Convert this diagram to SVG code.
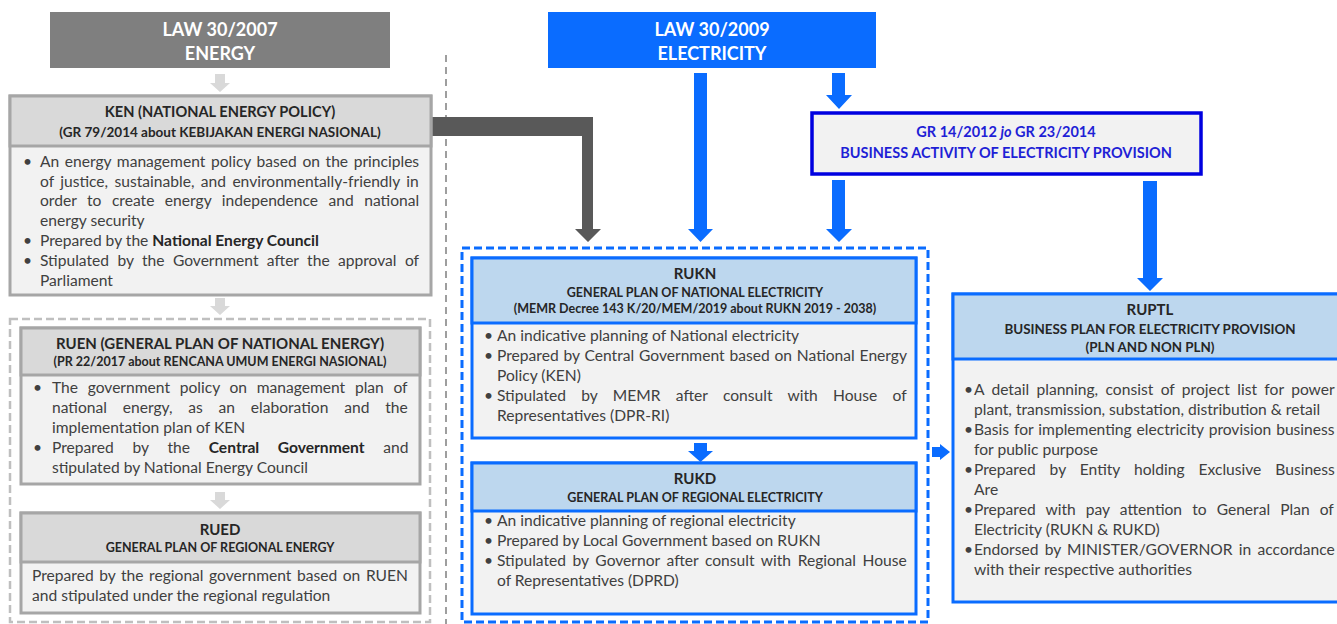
<svg xmlns="http://www.w3.org/2000/svg" width="1337" height="624" viewBox="0 0 1337 624">
<style>
text{font-family:Lato,"Open Sans","Liberation Sans",sans-serif;fill:#404040}
.b{font-size:15.6px}
.h1{font-size:15px;font-weight:bold;text-anchor:middle;fill:#262626}
.h2{font-size:12.5px;font-weight:bold;text-anchor:middle;fill:#262626}
.law{font-size:18px;font-weight:bold;text-anchor:middle;fill:#fff}
.gr{font-size:14.5px;font-weight:bold;text-anchor:middle;fill:#1f1fd6}
.gbox{fill:#f2f2f2;stroke:#a6a6a6;stroke-width:3}
.ghead{fill:#d9d9d9;stroke:#a6a6a6;stroke-width:3}
.bbox{fill:#f2f2f2;stroke:#0a6cff;stroke-width:3}
.bhead{fill:#bdd7ee;stroke:#0a6cff;stroke-width:3}
.blue{fill:#0a6cff}
.lg{fill:#d9d9d9}
.bold{font-weight:bold;fill:#262626}
</style>

<g id="connectors">
  <line x1="446" y1="55" x2="446" y2="624" stroke="#7f7f7f" stroke-width="1.5" stroke-dasharray="7 5"/>
  <path class="lg" d="M215,74 H225 V83 H230 L220,92 L210,83 H215 Z"/>
  <path class="lg" d="M215,298 H225 V306 H230 L220,315 L210,306 H215 Z"/>
  <path class="lg" d="M215,492 H225 V500 H230 L220,509 L210,500 H215 Z"/>
  <path fill="#595959" d="M431,117 H593 V229 H601 L588,242 L575,229 H582 V136 H431 Z"/>
  <path class="blue" d="M694,73 H707 V229 H713 L700.5,242 L688,229 H694 Z"/>
  <path class="blue" d="M832,73 H845 V95 H852 L839,109 L826,95 H832 Z"/>
  <path class="blue" d="M832,180 H845 V229 H852 L839,242 L826,229 H832 Z"/>
  <path class="blue" d="M1143,181 H1157 V278 H1163 L1150,291 L1137,278 H1143 Z"/>
  <path class="blue" d="M694,443 H707 V451 H713 L700.5,462 L688,451 H694 Z"/>
  <path class="blue" d="M932,447 H940 V444 L950,452 L940,460 V457 H932 Z"/>
</g>

<g id="law2007">
  <rect x="50" y="12" width="340" height="56" fill="#7f7f7f"/>
  <text class="law" x="220" y="36">LAW 30/2007</text>
  <text class="law" x="220" y="60">ENERGY</text>
</g>

<g id="ken">
  <rect class="gbox" x="10" y="96" width="421" height="199"/>
  <rect class="ghead" x="10" y="96" width="421" height="50"/>
  <text class="h1" x="220" y="117" style="font-size:14.6px">KEN (NATIONAL ENERGY POLICY)</text>
  <text class="h2" x="220" y="137" style="font-size:13.5px">(GR 79/2014 about KEBIJAKAN ENERGI NASIONAL)</text>
  <g class="b">
    <text x="23" y="167">•</text>
    <text x="40" y="167" word-spacing="1.6">An energy management policy based on the principles</text>
    <text x="40" y="187" word-spacing="2.4">of justice, sustainable, and environmentally-friendly in</text>
    <text x="40" y="206" word-spacing="6.5">order to create energy independence and national</text>
    <text x="40" y="226">energy security</text>
    <text x="23" y="246">•</text>
    <text x="40" y="246">Prepared by the <tspan class="bold">National Energy Council</tspan></text>
    <text x="23" y="266">•</text>
    <text x="40" y="266" word-spacing="4.4">Stipulated by the Government after the approval of</text>
    <text x="40" y="286">Parliament</text>
  </g>
</g>

<rect id="energy-plan-group" x="10" y="319" width="420" height="303" fill="none" stroke="#bfbfbf" stroke-width="2.5" stroke-dasharray="8 4"/>

<g id="ruen">
  <rect class="gbox" x="21" y="328" width="399" height="156"/>
  <rect class="ghead" x="21" y="328" width="399" height="47"/>
  <text class="h1" x="220" y="349">RUEN (GENERAL PLAN OF NATIONAL ENERGY)</text>
  <text class="h2" x="220" y="366">(PR 22/2017 about RENCANA UMUM ENERGI NASIONAL)</text>
  <g class="b">
    <text x="33" y="393">•</text>
    <text x="52" y="393" word-spacing="5.7">The government policy on management plan of</text>
    <text x="52" y="413" word-spacing="11.8">national energy, as an elaboration and the</text>
    <text x="52" y="433">implementation plan of KEN</text>
    <text x="33" y="453">•</text>
    <text x="52" y="453" word-spacing="14.8">Prepared by the <tspan class="bold">Central Government</tspan> and</text>
    <text x="52" y="473">stipulated by National Energy Council</text>
  </g>
</g>

<g id="rued">
  <rect class="gbox" x="21" y="513" width="399" height="100"/>
  <rect class="ghead" x="21" y="513" width="399" height="49"/>
  <text class="h1" x="220" y="535">RUED</text>
  <text class="h2" x="220" y="552">GENERAL PLAN OF REGIONAL ENERGY</text>
  <g class="b">
    <text x="32" y="581" word-spacing="1.6">Prepared by the regional government based on RUEN</text>
    <text x="32" y="601">and stipulated under the regional regulation</text>
  </g>
</g>

<g id="law2009">
  <rect x="548" y="12" width="328" height="56" fill="#0a6cff"/>
  <text class="law" x="712" y="36">LAW 30/2009</text>
  <text class="law" x="712" y="60">ELECTRICITY</text>
</g>

<g id="gr">
  <rect x="812" y="113" width="389" height="61" fill="#f2f2f2" stroke="#0000e0" stroke-width="3.5"/>
  <text class="gr" x="1006" y="137">GR 14/2012 <tspan font-style="italic">jo</tspan> GR 23/2014</text>
  <text class="gr" x="1006" y="158">BUSINESS ACTIVITY OF ELECTRICITY PROVISION</text>
</g>

<rect id="electricity-plan-group" x="462" y="248" width="466" height="374" fill="none" stroke="#0a6cff" stroke-width="3" stroke-dasharray="8 4"/>

<g id="rukn">
  <rect class="bbox" x="472" y="258" width="444" height="180"/>
  <rect class="bhead" x="472" y="258" width="444" height="65"/>
  <text class="h1" x="695" y="279">RUKN</text>
  <text class="h2" x="695" y="297">GENERAL PLAN OF NATIONAL ELECTRICITY</text>
  <text class="h2" x="695" y="313">(MEMR Decree 143 K/20/MEM/2019 about RUKN 2019 - 2038)</text>
  <g class="b">
    <text x="484" y="341">•</text>
    <text x="497" y="341">An indicative planning of National electricity</text>
    <text x="484" y="361">•</text>
    <text x="497" y="361" word-spacing="0.85">Prepared by Central Government based on National Energy</text>
    <text x="497" y="381">Policy (KEN)</text>
    <text x="484" y="401">•</text>
    <text x="497" y="401" word-spacing="11.3">Stipulated by MEMR after consult with House of</text>
    <text x="497" y="421">Representatives (DPR-RI)</text>
  </g>
</g>

<g id="rukd">
  <rect class="bbox" x="472" y="463" width="444" height="151"/>
  <rect class="bhead" x="472" y="463" width="444" height="48"/>
  <text class="h1" x="695" y="484">RUKD</text>
  <text class="h2" x="695" y="502">GENERAL PLAN OF REGIONAL ELECTRICITY</text>
  <g class="b">
    <text x="484" y="526">•</text>
    <text x="497" y="526">An indicative planning of regional electricity</text>
    <text x="484" y="546">•</text>
    <text x="497" y="546">Prepared by Local Government based on RUKN</text>
    <text x="484" y="566">•</text>
    <text x="497" y="566" word-spacing="2.6">Stipulated by Governor after consult with Regional House</text>
    <text x="497" y="586">of Representatives (DPRD)</text>
  </g>
</g>

<g id="ruptl">
  <rect class="bbox" x="953" y="294" width="400" height="308"/>
  <rect class="bhead" x="953" y="294" width="400" height="65"/>
  <text class="h1" x="1150" y="315">RUPTL</text>
  <text class="h2" x="1150" y="334" style="font-size:13.4px">BUSINESS PLAN FOR ELECTRICITY PROVISION</text>
  <text class="h2" x="1150" y="352" style="font-size:13.4px">(PLN AND NON PLN)</text>
  <g class="b">
    <text x="964" y="395">•</text>
    <text x="974" y="395" word-spacing="3.4">A detail planning, consist of project list for power</text>
    <text x="974" y="415">plant, transmission, substation, distribution &amp; retail</text>
    <text x="964" y="435">•</text>
    <text x="974" y="435" word-spacing="1">Basis for implementing electricity provision business</text>
    <text x="974" y="455">for public purpose</text>
    <text x="964" y="475">•</text>
    <text x="974" y="475" word-spacing="10">Prepared by Entity holding Exclusive Business</text>
    <text x="974" y="495">Are</text>
    <text x="964" y="515">•</text>
    <text x="974" y="515" word-spacing="6.1">Prepared with pay attention to General Plan of</text>
    <text x="974" y="535">Electricity (RUKN &amp; RUKD)</text>
    <text x="964" y="555">•</text>
    <text x="974" y="555" word-spacing="2.25">Endorsed by MINISTER/GOVERNOR in accordance</text>
    <text x="974" y="575">with their respective authorities</text>
  </g>
</g>
</svg>
